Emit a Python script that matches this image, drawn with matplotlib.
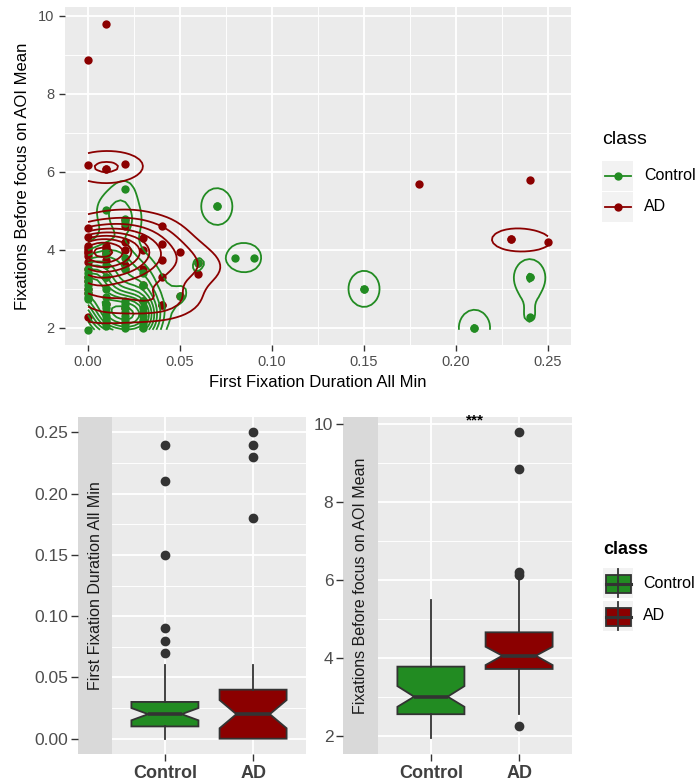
import numpy as np
import matplotlib
matplotlib.use("Agg")
import matplotlib.pyplot as plt
from matplotlib.patches import Rectangle
from matplotlib.lines import Line2D

plt.rcParams['font.family'] = ['Liberation Sans', 'DejaVu Sans']

# ---------------- data ----------------
classes = ["Control", "AD"]
colors = {"Control": "#228B22", "AD": "#8B0000"}

ctrl_ffd = [0.15, 0.15, 0.21, 0.21, 0.07, 0.07, 0.08, 0.09, 0.24, 0.24, 0.24,
            0.02, 0.06, 0.05, 0.01, 0.02, 0.02, 0.00,
            0.00, 0.00, 0.00, 0.00, 0.00, 0.00, 0.00, 0.00, 0.00,
            0.01, 0.01, 0.01, 0.01, 0.01, 0.01, 0.01, 0.01, 0.01, 0.01, 0.01,
            0.02, 0.02, 0.02, 0.02, 0.02, 0.02, 0.02, 0.02, 0.02, 0.02,
            0.03, 0.03, 0.03, 0.03, 0.03, 0.03, 0.03, 0.03, 0.03]
ctrl_fix = [3.00, 3.00, 2.00, 2.00, 5.12, 5.12, 3.80, 3.80, 3.30, 3.30, 2.27,
            5.55, 3.66, 2.82, 5.03, 4.80, 4.70, 1.95,
            3.50, 3.40, 3.30, 3.20, 3.10, 3.00, 2.90, 2.80, 2.75,
            3.90, 3.60, 3.30, 3.00, 2.80, 2.60, 2.40, 2.30, 2.20, 2.05, 2.50,
            3.80, 3.50, 2.70, 2.50, 2.40, 2.30, 2.20, 2.10, 2.00, 2.60,
            3.40, 3.10, 2.70, 2.50, 2.40, 2.30, 2.20, 2.10, 2.00]

ad_ffd = [0.01, 0.00, 0.00, 0.01, 0.01, 0.02, 0.18, 0.24, 0.23, 0.23, 0.25, 0.05, 0.06,
          0.00, 0.00,
          0.00, 0.00, 0.00, 0.00, 0.00, 0.00, 0.00, 0.00, 0.00, 0.00, 0.00,
          0.01, 0.01, 0.01, 0.01, 0.01, 0.01,
          0.02, 0.02, 0.02, 0.02, 0.02,
          0.03, 0.03, 0.03,
          0.04, 0.04, 0.04, 0.04, 0.04, 0.04,
          0.00, 0.00, 0.01, 0.01, 0.02, 0.02, 0.03, 0.03, 0.05, 0.06]
ad_fix = [9.80, 8.88, 6.17, 6.08, 6.08, 6.20, 5.68, 5.79, 4.27, 4.27, 4.20, 3.94, 3.38,
          2.29, 2.90,
          4.56, 4.34, 3.95, 4.10, 4.00, 3.92, 3.85, 3.70, 3.50, 4.05, 3.20,
          4.10, 4.00, 3.95, 3.75, 4.05, 3.90,
          4.77, 4.60, 4.20, 4.00, 3.60,
          4.30, 3.50, 4.00,
          2.59, 2.59, 3.75, 4.15, 4.60, 3.30,
          3.00, 3.30, 2.60, 3.30, 2.50, 3.50, 2.70, 3.10, 2.82, 3.66]

# boxplot summaries
box_ffd = {
    "Control": dict(whislo=0.00, q1=0.010, med=0.020, q3=0.030, whishi=0.06,
                    cilo=0.015, cihi=0.025, fliers=[0.07, 0.08, 0.09, 0.15, 0.21, 0.24]),
    "AD": dict(whislo=0.00, q1=0.000, med=0.020, q3=0.040, whishi=0.06,
               cilo=0.0085, cihi=0.0315, fliers=[0.18, 0.23, 0.24, 0.25]),
}
box_fix = {
    "Control": dict(whislo=1.94, q1=2.56, med=3.01, q3=3.78, whishi=5.50,
                    cilo=2.75, cihi=3.28, fliers=[]),
    "AD": dict(whislo=2.56, q1=3.72, med=4.06, q3=4.66, whishi=6.08,
               cilo=3.82, cihi=4.29, fliers=[2.26, 6.13, 6.20, 8.85, 9.79]),
}

ffd_ticks = [0.00, 0.05, 0.10, 0.15, 0.20, 0.25]
fix_ticks = [2, 4, 6, 8, 10]

# ---------------- helpers ----------------
W, H = 698, 784
def fx(x): return x / W
def fy(y): return 1 - y / H

PANEL = "#EBEBEB"
TICKC = "#4D4D4D"
DARK = "#333333"

def style_panel(ax):
    ax.set_facecolor(PANEL)
    for s in ax.spines.values():
        s.set_visible(False)
    ax.tick_params(colors=DARK, labelcolor=TICKC, length=4, width=1)
    ax.set_axisbelow(True)

def bw_nrd(v):
    v = np.asarray(v, float)
    q1, q3 = np.percentile(v, [25, 75])
    h = (q3 - q1) / 1.34
    return 4 * 1.06 * min(np.std(v, ddof=1), h) * len(v) ** (-0.2)

def kde2d(x, y, lims, n=100):
    x = np.asarray(x, float); y = np.asarray(y, float)
    hx = bw_nrd(x) / 4; hy = bw_nrd(y) / 4
    gx = np.linspace(lims[0], lims[1], n)
    gy = np.linspace(lims[2], lims[3], n)
    ax_ = (gx[:, None] - x[None, :]) / hx
    ay_ = (gy[:, None] - y[None, :]) / hy
    px = np.exp(-0.5 * ax_ ** 2) / np.sqrt(2 * np.pi)
    py = np.exp(-0.5 * ay_ ** 2) / np.sqrt(2 * np.pi)
    z = px @ py.T / (len(x) * hx * hy)
    return gx, gy, z

def r_pretty(lo, hi, n=10):
    dx = hi - lo
    cell = dx / n
    U = 10 ** np.floor(np.log10(cell))
    unit = U
    h = 1.5; h5 = 0.5 + 1.5 * h
    if 2 * U - cell < h * (cell - unit):
        unit = 2 * U
        if 5 * U - cell < h5 * (cell - unit):
            unit = 5 * U
            if 10 * U - cell < h * (cell - unit):
                unit = 10 * U
    ns = np.floor(lo / unit + 1e-7); nu = np.ceil(hi / unit - 1e-7)
    return np.arange(ns, nu + 1) * unit

# ---------------- figure ----------------
fig = plt.figure(figsize=(W / 100, H / 100), dpi=100)

# ===== top scatter with density contours =====
ax = fig.add_axes([fx(65), fy(345), 506 / W, 338 / H])
style_panel(ax)
ax.set_xlim(-0.0125, 0.2625)
ax.set_ylim(1.56, 10.23)
ax.set_xticks([0, 0.05, 0.10, 0.15, 0.20, 0.25])
ax.set_xticklabels(["0.00", "0.05", "0.10", "0.15", "0.20", "0.25"], fontsize=10.5)
ax.set_yticks([2, 4, 6, 8, 10])
ax.set_yticklabels(["2", "4", "6", "8", "10"], fontsize=10.5)
ax.set_xticks([0.025, 0.075, 0.125, 0.175, 0.225], minor=True)
ax.set_yticks([3, 5, 7, 9], minor=True)
ax.tick_params(which="minor", length=0)
ax.grid(which="major", color="white", linewidth=1.3)
ax.grid(which="minor", color="white", linewidth=0.65)
ax.set_xlabel("First Fixation Duration All Min", fontsize=12, color="black", labelpad=4)
ax.set_ylabel("Fixations Before focus on AOI Mean", fontsize=12, color="black", labelpad=6)

groups = {"Control": (ctrl_ffd, ctrl_fix), "AD": (ad_ffd, ad_fix)}
allx = np.array(ctrl_ffd + ad_ffd); ally = np.array(ctrl_fix + ad_fix)
lims = (allx.min(), allx.max(), ally.min(), ally.max())
dens = {c: kde2d(groups[c][0], groups[c][1], lims) for c in classes}
zmax = max(d[2].max() for d in dens.values())
zmin = min(d[2].min() for d in dens.values())
breaks = r_pretty(zmin, zmax, 10)

for c in ["AD", "Control"]:
    ax.plot(groups[c][0], groups[c][1], "o", color=colors[c], ms=6, mew=0, zorder=3)
for c in classes:
    gx, gy, z = dens[c]
    lv = [b for b in breaks if z.min() < b < z.max()]
    ax.contour(gx, gy, z.T, levels=lv, colors=colors[c], linewidths=1.3, zorder=4)

# top legend (drawn by hand, ggplot style)
fig.text(fx(602), fy(140), "class", fontsize=14, va="center", ha="left", color="black")
for i, c in enumerate(classes):
    y0 = 161 + i * 31
    fig.patches.append(Rectangle((fx(602), fy(y0 + 30)), 31 / W, 30 / H,
                                 transform=fig.transFigure, facecolor="#F2F2F2",
                                 edgecolor="none"))
    fig.lines.append(Line2D([fx(605), fx(631)], [fy(y0 + 15)] * 2, transform=fig.transFigure,
                            color=colors[c], linewidth=1.3))
    fig.lines.append(Line2D([fx(618)], [fy(y0 + 15)], transform=fig.transFigure,
                            color=colors[c], marker="o", ms=6, mew=0))
    fig.text(fx(644), fy(y0 + 15), c, fontsize=11.5, va="center", ha="left", color="black")

# ===== bottom boxplots =====
def box_panel(x_strip, x_ax, top, bot, label, stats, ylim, yticks, yticklabels, minor):
    sax = fig.add_axes([fx(x_strip), fy(bot), (x_ax - x_strip) / W, (bot - top) / H])
    sax.set_facecolor("#D9D9D9")
    for s in sax.spines.values():
        s.set_visible(False)
    sax.set_xticks([])
    sax.set_ylim(*ylim)
    sax.set_yticks(yticks)
    sax.set_yticklabels(yticklabels, fontsize=12.5)
    sax.tick_params(axis="y", colors=DARK, labelcolor=TICKC, length=5, width=1, pad=2)
    sax.text(0.5, 0.5, label, rotation=90, ha="center", va="center", fontsize=11.5,
             color="#1A1A1A", transform=sax.transAxes)

    bax = fig.add_axes([fx(x_ax), fy(bot), (306 - 112) / W, (bot - top) / H])
    style_panel(bax)
    bax.set_xlim(0.4, 2.6)
    bax.set_ylim(*ylim)
    bax.set_yticks(yticks)
    bax.set_yticklabels([])
    bax.set_yticks(minor, minor=True)
    bax.tick_params(axis="y", which="both", length=0)
    bax.grid(which="major", color="white", linewidth=1.3)
    bax.grid(which="minor", axis="y", color="white", linewidth=0.65)
    bstats = []
    for c in classes:
        d = dict(stats[c]); d["label"] = c
        bstats.append(d)
    res = bax.bxp(bstats, positions=[1, 2], widths=0.76, shownotches=True, patch_artist=True,
                  showcaps=False,
                  boxprops=dict(edgecolor=DARK, linewidth=1.3),
                  whiskerprops=dict(color=DARK, linewidth=1.3),
                  medianprops=dict(color=DARK, linewidth=2.6),
                  flierprops=dict(marker="o", markerfacecolor=DARK, markeredgecolor=DARK,
                                  markersize=6))
    for patch, c in zip(res["boxes"], classes):
        patch.set_facecolor(colors[c])
    bax.set_xticks([1, 2])
    bax.set_xticklabels(classes, fontsize=13, fontweight="bold", color="#404040")
    bax.tick_params(axis="x", length=5, colors=DARK, labelcolor="#404040", pad=3)
    return bax

box_panel(78, 112, 417, 754, "First Fixation Duration All Min", box_ffd,
          (-0.0125, 0.2625), ffd_ticks, ["0.00", "0.05", "0.10", "0.15", "0.20", "0.25"],
          [0.025, 0.075, 0.125, 0.175, 0.225])
bax2 = box_panel(343, 378, 417, 754, "Fixations Before focus on AOI Mean", box_fix,
                 (1.54, 10.18), fix_ticks, ["2", "4", "6", "8", "10"], [3, 5, 7, 9])
bax2.text(1.5, 10.08, "***", ha="center", va="center", fontsize=11, fontweight="bold",
          color="black")

# bottom legend
fig.text(fx(603), fy(550), "class", fontsize=13, fontweight="bold", va="center", ha="left")
for i, c in enumerate(classes):
    y0 = 568 + i * 33
    fig.patches.append(Rectangle((fx(603), fy(y0 + 30)), 30 / W, 30 / H,
                                 transform=fig.transFigure, facecolor="#F2F2F2",
                                 edgecolor="none"))
    fig.lines.append(Line2D([fx(618)] * 2, [fy(y0 + 1), fy(y0 + 29)], transform=fig.transFigure,
                            color=DARK, linewidth=1.3))
    fig.patches.append(Rectangle((fx(606), fy(y0 + 25)), 25 / W, 18 / H,
                                 transform=fig.transFigure, facecolor=colors[c],
                                 edgecolor=DARK, linewidth=1.3))
    fig.lines.append(Line2D([fx(606), fx(631)], [fy(y0 + 16)] * 2, transform=fig.transFigure,
                            color=DARK, linewidth=2.2))
    fig.text(fx(643), fy(y0 + 15), c, fontsize=11.5, va="center", ha="left")

fig.savefig("out.png", dpi=100, facecolor="white")
